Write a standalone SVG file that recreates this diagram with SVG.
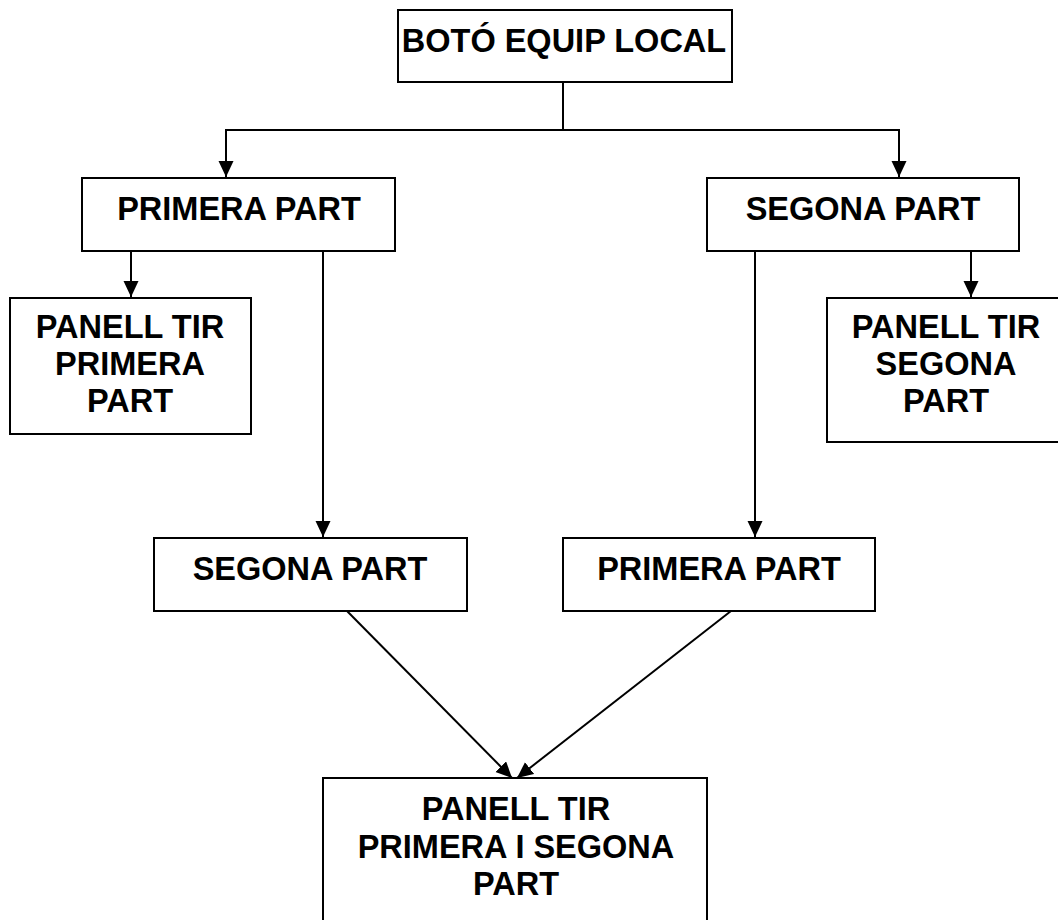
<svg xmlns="http://www.w3.org/2000/svg" width="1058" height="920" viewBox="0 0 1058 920">
  <style>
    .box { fill: #ffffff; stroke: #000000; stroke-width: 2; }
    .lbl { font-family: "Liberation Sans", Arial, sans-serif; font-weight: bold; font-size: 32.5px; fill: #000000; text-anchor: middle; }
    .wire { fill: none; stroke: #000000; stroke-width: 2; }
    .arrow { marker-end: url(#head); }
  </style>
  <defs>
    <marker id="head" markerUnits="userSpaceOnUse" markerWidth="17" markerHeight="16" refX="16" refY="7.5" orient="auto">
      <path d="M0,0 L16,7.5 L0,15 Z" fill="#000000"/>
    </marker>
  </defs>
  <rect width="1058" height="920" fill="#ffffff"/>

  <g id="connectors">
    <polyline class="wire" points="563,82 563,130"/>
    <polyline class="wire arrow" points="563,130 226,130 226,177"/>
    <polyline class="wire arrow" points="563,130 899,130 899,177"/>
    <line class="wire arrow" x1="131" y1="251" x2="131" y2="297"/>
    <line class="wire arrow" x1="323" y1="251" x2="323" y2="537"/>
    <line class="wire arrow" x1="755" y1="251" x2="755" y2="537"/>
    <line class="wire arrow" x1="971" y1="251" x2="971" y2="297"/>
    <line class="wire arrow" x1="347" y1="611" x2="512" y2="778"/>
    <line class="wire arrow" x1="731" y1="611" x2="517" y2="778"/>
  </g>

  <g id="boto-equip-local">
    <rect class="box" x="398" y="10" width="334" height="72"/>
    <text class="lbl" x="564" y="52">BOTÓ EQUIP LOCAL</text>
  </g>

  <g id="primera-part">
    <rect class="box" x="82" y="178" width="313" height="73"/>
    <text class="lbl" x="239" y="220">PRIMERA PART</text>
  </g>

  <g id="segona-part">
    <rect class="box" x="707" y="178" width="312" height="73"/>
    <text class="lbl" x="863" y="220">SEGONA PART</text>
  </g>

  <g id="panell-tir-primera">
    <rect class="box" x="10" y="298" width="241" height="136"/>
    <text class="lbl" x="130" y="338">PANELL TIR</text>
    <text class="lbl" x="130" y="375">PRIMERA</text>
    <text class="lbl" x="130" y="412">PART</text>
  </g>

  <g id="panell-tir-segona">
    <rect class="box" x="827" y="298" width="240" height="144"/>
    <text class="lbl" x="946" y="338">PANELL TIR</text>
    <text class="lbl" x="946" y="375">SEGONA</text>
    <text class="lbl" x="946" y="412">PART</text>
  </g>

  <g id="segona-part-2">
    <rect class="box" x="154" y="538" width="313" height="73"/>
    <text class="lbl" x="310" y="580">SEGONA PART</text>
  </g>

  <g id="primera-part-2">
    <rect class="box" x="563" y="538" width="312" height="73"/>
    <text class="lbl" x="719" y="580">PRIMERA PART</text>
  </g>

  <g id="panell-tir-ambdues">
    <rect class="box" x="323" y="778" width="384" height="150"/>
    <text class="lbl" x="516" y="820">PANELL TIR</text>
    <text class="lbl" x="516" y="858">PRIMERA I SEGONA</text>
    <text class="lbl" x="516" y="895">PART</text>
  </g>
</svg>
